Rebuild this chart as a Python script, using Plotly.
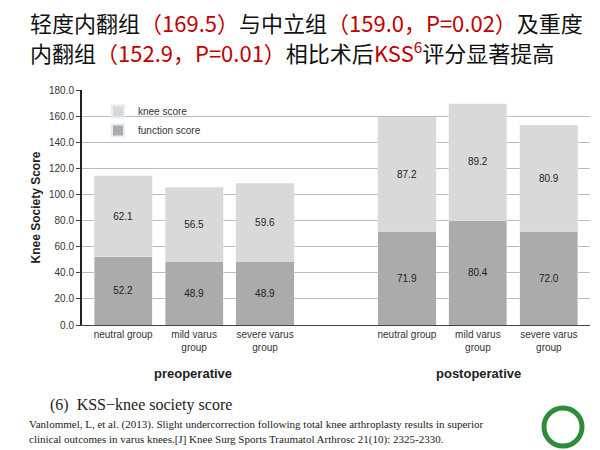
import plotly.graph_objects as go

xpos = [0, 1, 2, 4, 5, 6]
xlabels = ["neutral group", "mild varus<br>group", "severe varus<br>group",
           "neutral group", "mild varus<br>group", "severe varus<br>group"]
function_score = [52.2, 48.9, 48.9, 71.9, 80.4, 72.0]
knee_score = [62.1, 56.5, 59.6, 87.2, 89.2, 80.9]
yticks = [0, 20, 40, 60, 80, 100, 120, 140, 160, 180]

W, H = 600, 450
OFF = 8  # page body margin
def px(x): return (x - OFF) / W
def py(y): return 1 - (y - OFF) / H

fig = go.Figure()
fig.add_bar(x=xpos, y=function_score, name="function score", marker_color="#ababab",
            text=[f"{v:.1f}" for v in function_score], textposition="inside",
            insidetextanchor="middle", textfont=dict(size=10, color="#222"), width=0.82)
fig.add_bar(x=xpos, y=knee_score, name="knee score", marker_color="#d9d9d9",
            text=[f"{v:.1f}" for v in knee_score], textposition="inside",
            insidetextanchor="middle", textfont=dict(size=10, color="#222"), width=0.82)

fig.update_layout(
    width=W, height=H, barmode="stack", plot_bgcolor="white", paper_bgcolor="white",
    margin=dict(l=0, r=0, t=0, b=0),
    font=dict(family="Liberation Sans, Arial", color="#333"),
    xaxis=dict(domain=[px(82), px(590)], range=[-0.58, 6.58], tickvals=xpos, ticktext=xlabels,
               tickfont=dict(size=10), showline=True, linecolor="#444", ticks="", showgrid=False,
               automargin=False),
    yaxis=dict(domain=[py(325), py(90)], range=[0, 180], tickvals=yticks,
               ticktext=[f"{v:.1f}" for v in yticks], tickfont=dict(size=10),
               showline=True, linecolor="#222", linewidth=2, gridcolor="#bbbbbb",
               ticks="outside", ticklen=4, automargin=False,
               title=dict(text="<b>Knee Society Score</b>", font=dict(size=12, color="#222"), standoff=6)),
    legend=dict(x=px(98), y=py(97), xanchor="left", yanchor="top", traceorder="reversed",
                font=dict(size=10), bgcolor="rgba(0,0,0,0)", itemsizing="constant"),
    bargap=0.18,
)

def ann(x, y, text, size, color="#222", family="Liberation Sans, Arial", xanchor="center"):
    fig.add_annotation(x=px(x), y=py(y), xref="paper", yref="paper", text=text, showarrow=False,
                       font=dict(size=size, color=color, family=family), xanchor=xanchor,
                       yanchor="middle")

ann(193, 373, "<b>preoperative</b>", 13)
ann(478, 373, "<b>postoperative</b>", 13)

red = "#c00000"
cjk = "Noto Sans CJK SC"
line1 = (f"轻度内翻组<span style='color:{red}'>（169.5）</span>与中立组"
         f"<span style='color:{red}'>（159.0，P=0.02）</span>及重度")
line2 = (f"内翻组<span style='color:{red}'>（152.9，P=0.01）</span>相比术后"
         f"<span style='color:{red}'>KSS<sup>6</sup></span>评分显著提高")
ann(28, 22, line1, 22, color="#111", family=cjk, xanchor="left")
ann(28, 52, line2, 22, color="#111", family=cjk, xanchor="left")

ann(48, 405, "(6)  KSS−knee society score", 16, family="Liberation Serif", xanchor="left")
ann(27, 424, "Vanlommel, L, et al. (2013). Slight undercorrection following total knee arthroplasty results in superior",
    11, family="Liberation Serif", xanchor="left")
ann(27, 439, "clinical outcomes in varus knees.[J] Knee Surg Sports Traumatol Arthrosc 21(10): 2325-2330.",
    11, family="Liberation Serif", xanchor="left")

fig.add_shape(type="circle", xref="paper", yref="paper", x0=px(544), x1=px(582), y0=py(446), y1=py(408),
              line=dict(color="#2e8b3a", width=5), fillcolor="white")

fig.write_html("out.html")
